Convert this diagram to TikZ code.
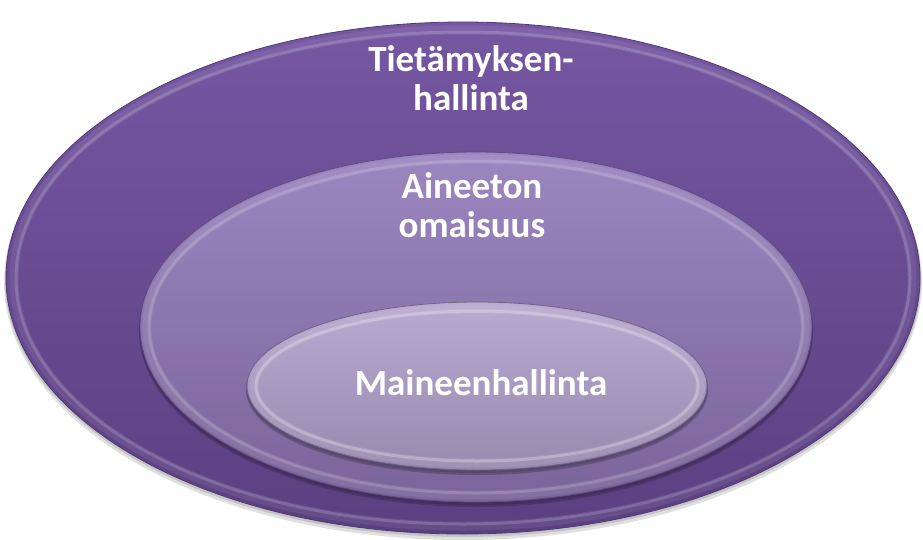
\documentclass[tikz,border=0pt]{standalone}
\usepackage{fontspec}
\setmainfont{Carlito}
\usetikzlibrary{fadings}
\definecolor{oTop}{HTML}{7657A2}
\definecolor{oBot}{HTML}{5A4081}
\definecolor{oEdge}{HTML}{4E3A70}
\definecolor{mTop}{HTML}{9B86C0}
\definecolor{mBot}{HTML}{7A6499}
\definecolor{mEdge}{HTML}{5E4C7A}
\definecolor{iTop}{HTML}{B8AAD0}
\definecolor{iBot}{HTML}{988AAF}
\definecolor{iEdge}{HTML}{6F6485}
\tikzset{
  lbl/.style={text=white, font=\bfseries\fontsize{37}{39}\selectfont, align=center, inner sep=0pt},
  rimwide/.style={white, line width=9pt, opacity=0.07},
  rim/.style={white, line width=3pt, opacity=0.16},
  shadowring/.style={black, opacity=0.12}
}
\begin{document}
\begin{tikzpicture}[x=1pt,y=-1pt]
\useasboundingbox (0,0) rectangle (923,539);
\fill[white] (0,0) rectangle (923,539);

% outer ellipse
\fill[shadowring] (463,282) ellipse [x radius=459pt, y radius=258pt];
\fill[shadowring] (463,280) ellipse [x radius=458pt, y radius=257pt];
\path[draw=oEdge, line width=0.8pt, top color=oTop, bottom color=oBot]
  (463,278) ellipse [x radius=457pt, y radius=256pt];
\draw[rimwide] (463,278) ellipse [x radius=449pt, y radius=248pt];
\draw[rim] (463,278) ellipse [x radius=447pt, y radius=246pt];

% middle ellipse
\fill[black, opacity=0.18] (476,331) ellipse [x radius=337pt, y radius=176pt];
\fill[black, opacity=0.12] (476,329) ellipse [x radius=337pt, y radius=176pt];
\path[draw=mEdge, line width=0.8pt, top color=mTop, bottom color=mBot]
  (476,327) ellipse [x radius=336pt, y radius=175pt];
\draw[rimwide] (476,327) ellipse [x radius=329pt, y radius=168pt];
\draw[rim] (476,327) ellipse [x radius=327pt, y radius=166pt];

% inner ellipse
\fill[black, opacity=0.2] (477,390) ellipse [x radius=231pt, y radius=85pt];
\fill[black, opacity=0.12] (477,388) ellipse [x radius=231pt, y radius=85pt];
\path[draw=iEdge, line width=0.8pt, top color=iTop, bottom color=iBot]
  (477,386) ellipse [x radius=230pt, y radius=84pt];
\draw[rimwide] (477,386) ellipse [x radius=223pt, y radius=77pt];
\draw[rim, opacity=0.25] (477,386) ellipse [x radius=221pt, y radius=75pt];

% labels
\node[lbl, anchor=north] (outerlbl) at (471,45) {Tietämyksen-\\hallinta};
\node[lbl, anchor=north] (midlbl) at (472,172) {Aineeton\\omaisuus};
\node[lbl, anchor=base] (innerlbl) at (481,395) {Maineenhallinta};
\end{tikzpicture}
\end{document}
